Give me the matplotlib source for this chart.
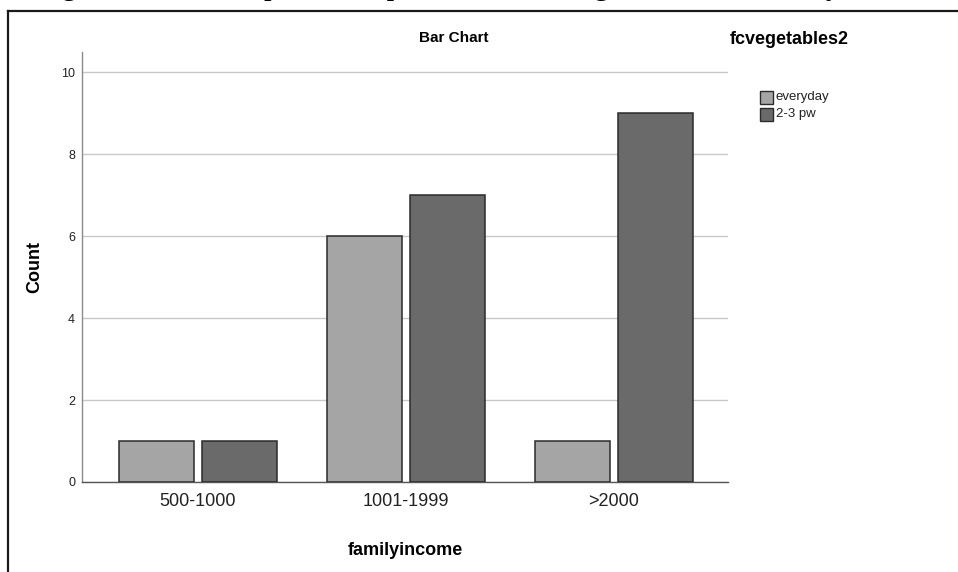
import numpy as np
import matplotlib
matplotlib.use("Agg")
from matplotlib import pyplot as plt
from matplotlib.lines import Line2D
from matplotlib.patches import Rectangle

# dane z wykresu
categories = ["500-1000", "1001-1999", ">2000"]
series_names = ["everyday", "2-3 pw"]
everyday = [1, 6, 1]
twice_weekly = [1, 7, 9]
yticks = [0, 2, 4, 6, 8, 10]

colors = ["#a5a5a5", "#6a6a6a"]
edge = "#2b2b2b"

plt.rcParams['font.family'] = ['Liberation Sans', 'DejaVu Sans']

fig = plt.figure(figsize=(9.58, 5.72), dpi=100)
W, H = 958, 572

# Ramka wokół wykresu (jak w dokumencie)
fig.add_artist(Line2D([8 / W, 8 / W], [0, 1 - 11 / H], color="#1a1a1a", lw=1.6))
fig.add_artist(Line2D([8 / W, 1], [1 - 11 / H, 1 - 11 / H], color="#1a1a1a", lw=1.6))

# Ucięty wiersz tekstu nad wykresem (widać tylko dolne końcówki liter)
fig.text(0.0, 1 + 6 / H, "of vegetables consumption compared to the living level of the family",
         family=['Liberation Serif', 'DejaVu Serif'], fontsize=22, va='baseline', ha='left')

ax = fig.add_axes([82 / W, 1 - 482 / H, (728 - 82) / W, (482 - 52) / H])

x = np.arange(len(categories))
bw = 0.36
gap = 0.04
ax.bar(x - bw / 2 - gap / 2, everyday, bw, color=colors[0], edgecolor=edge, linewidth=1.1, zorder=3)
ax.bar(x + bw / 2 + gap / 2, twice_weekly, bw, color=colors[1], edgecolor=edge, linewidth=1.1, zorder=3)

ax.set_xlim(-0.557, 2.548)
ax.set_ylim(0, 10.5)
ax.set_yticks(yticks)
ax.set_yticklabels([str(t) for t in yticks], fontsize=9, color="#222222")
ax.set_xticks(x)
ax.set_xticklabels(categories, fontsize=13, color="#222222")
ax.tick_params(axis='both', length=0)
ax.tick_params(axis='y', pad=5)
ax.tick_params(axis='x', pad=8)

ax.yaxis.grid(True, color="#c8c8c8", lw=1.0, zorder=0)
ax.set_axisbelow(True)
for s in ["top", "right"]:
    ax.spines[s].set_visible(False)
ax.spines["left"].set_color("#8a8a8a")
ax.spines["left"].set_linewidth(1.0)
ax.spines["bottom"].set_color("#555555")
ax.spines["bottom"].set_linewidth(1.0)

ax.set_xlabel("familyincome", fontsize=13, fontweight="bold", labelpad=23)
ax.set_ylabel("Count", fontsize=13, fontweight="bold", labelpad=13)

fig.text(454 / W, 1 - 38 / H, "Bar Chart", fontsize=11, fontweight="bold", ha="center", va="center")

# Legenda
fig.text(730 / W, 1 - 40 / H, "fcvegetables2", fontsize=13, fontweight="bold", ha="left", va="center")
for i, name in enumerate(series_names):
    yc = 97 + i * 17.5
    fig.add_artist(Rectangle((760 / W, 1 - (yc + 6.5) / H), 13 / W, 13 / H,
                             facecolor=colors[i], edgecolor=edge, lw=1.0, transform=fig.transFigure))
    fig.text(776 / W, 1 - yc / H, name, fontsize=9.5, ha="left", va="center", color="#222222")

fig.savefig("out.png", dpi=100)
